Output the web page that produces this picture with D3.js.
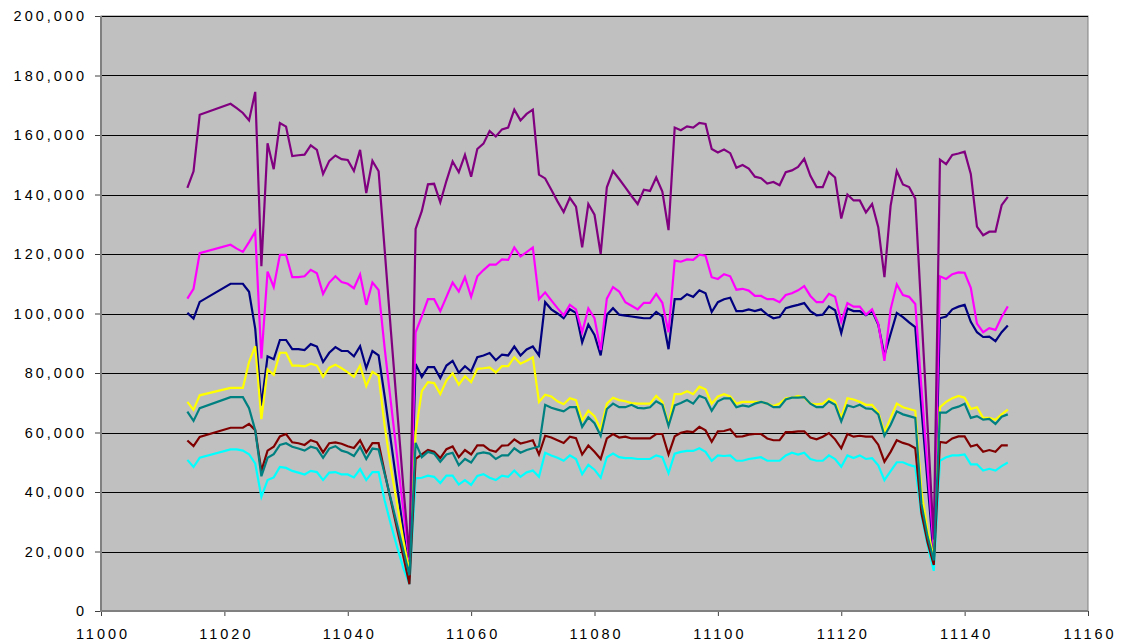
<!DOCTYPE html>
<html>
<head>
<meta charset="utf-8">
<script src="https://cdn.jsdelivr.net/npm/d3@7"></script>
<style>
  body { margin: 0; background: #fff; }
  .axis text { font-family: "Liberation Sans", Arial, sans-serif; font-size: 14.5px; letter-spacing: 3px; fill: #000; }
</style>
</head>
<body>
<div id="vis"></div>
<script>
// x values (day numbers)
const days = [11014, 11015, 11016,
  11021, 11022, 11023, 11024, 11025, 11026, 11027, 11028, 11029, 11030,
  11031, 11032, 11033, 11034, 11035, 11036, 11037, 11038, 11039, 11040,
  11041, 11042, 11043, 11044, 11045, 11046, 11047, 11048, 11049, 11050,
  11051, 11052, 11053, 11054, 11055, 11056, 11057, 11058, 11059, 11060,
  11061, 11062, 11063, 11064, 11065, 11066, 11067, 11068, 11069, 11070,
  11071, 11072, 11073, 11074, 11075, 11076, 11077, 11078, 11079, 11080,
  11081, 11082, 11083, 11084, 11085, 11086, 11087, 11088, 11089, 11090,
  11091, 11092, 11093, 11094, 11095, 11096, 11097, 11098, 11099, 11100,
  11101, 11102, 11103, 11104, 11105, 11106, 11107, 11108, 11109, 11110,
  11111, 11112, 11113, 11114, 11115, 11116, 11117, 11118, 11119, 11120,
  11121, 11122, 11123, 11124, 11125, 11126, 11127, 11128, 11129, 11130,
  11131, 11132, 11133, 11134, 11135, 11136, 11137, 11138, 11139, 11140,
  11141, 11142, 11143, 11144, 11145, 11146, 11147];

const navy = [100200, 98300, 103900,
  110000, 110000, 110000, 107300, 94900, 69000, 85600, 84600, 91100, 91100,
  88000, 88000, 87700, 89700, 88900, 83700, 86800, 88700, 87400, 87400,
  85600, 89000, 81600, 87400, 85900, 72000, 57000, 42000, 27000, 13000,
  83000, 78700, 82000, 82000, 78300, 82500, 84100, 80100, 82300, 80500,
  85300, 85900, 86700, 84300, 86200, 85900, 88900, 85900, 87900, 88900,
  85900, 103800, 101400, 100000, 98400, 101400, 100200, 90300, 96300, 92800,
  85900, 99600, 101800, 99600, 99300, 99000, 98700, 98400, 98400, 100500,
  99000, 88000, 104800, 104800, 106500, 105600, 107800, 106800, 100500, 103800,
  104800, 105300, 100800, 100800, 101400, 100800, 101400, 99600, 98400, 98800,
  101800, 102400, 102900, 103500, 100800, 99400, 99600, 102400, 101100, 93400,
  101700, 100800, 100800, 99400, 100800, 96300, 85900, 93100, 100200, 98800,
  97000, 95400, 68000, 43000, 18000, 98400, 99000, 101400, 102300, 102900,
  97200, 93700, 92100, 92200, 90700, 93700, 96000];

const magenta = [105000, 108300, 120300,
  123100, 121800, 120700, 124000, 127500, 84900, 114100, 108900, 119700, 119700,
  112200, 112200, 112500, 114700, 113500, 106600, 110400, 112500, 110600, 110000,
  108500, 113100, 102900, 110400, 107900, 88000, 70000, 52000, 34000, 17000,
  93700, 99000, 104800, 104800, 100800, 105600, 110400, 107400, 112200, 105600,
  112500, 114600, 116400, 116400, 118200, 118000, 122200, 119200, 120600, 122200,
  104800, 107100, 104400, 101800, 99400, 102900, 101400, 93700, 101700, 98400,
  87700, 105000, 108900, 107400, 103800, 102600, 101400, 103600, 103600, 106600,
  103600, 93700, 117800, 117400, 118200, 118000, 119800, 119400, 112200, 111600,
  113200, 112500, 108000, 108300, 107700, 105900, 105900, 104800, 104800, 103800,
  106200, 106800, 107800, 109200, 105900, 103800, 103800, 106600, 105600, 97200,
  103500, 102300, 102300, 99600, 101400, 96600, 84100, 101400, 109800, 106200,
  105600, 103200, 75000, 48000, 21000, 112500, 111600, 113200, 113800, 113700,
  108600, 96600, 93700, 95100, 94500, 98800, 102400];

const yellow = [70300, 67600, 72500,
  75000, 75000, 75000, 83700, 89000, 64500, 81200, 79400, 86800, 86800,
  82500, 82500, 82200, 83100, 82500, 78700, 81800, 82800, 81600, 80200,
  78700, 82500, 75600, 80400, 79100, 62000, 48000, 36000, 24000, 13000,
  60000, 73900, 76900, 76600, 72900, 77500, 79900, 76100, 78900, 76900,
  81400, 81600, 81900, 80200, 82300, 82300, 85300, 83100, 84100, 85300,
  70300, 72700, 72100, 70500, 69500, 71500, 70900, 64000, 67300, 65500,
  61000, 69700, 71700, 70900, 70500, 69900, 69700, 69700, 69700, 72300,
  70300, 62500, 72900, 72900, 73900, 72900, 75400, 74500, 69700, 72100,
  72900, 72100, 69700, 70300, 70300, 70300, 70300, 69700, 68900, 69700,
  71500, 71700, 72300, 71700, 69700, 69500, 69700, 71300, 70300, 64900,
  71500, 71100, 70300, 69300, 69300, 66700, 60100, 64900, 69700, 68500,
  67900, 67300, 40000, 27000, 18000, 68500, 70300, 71500, 72300, 71700,
  67900, 68500, 64900, 64900, 64300, 66100, 67700];

const cyan = [50800, 48400, 51500,
  54300, 54300, 53900, 52700, 49600, 38400, 44000, 44900, 48400, 48100,
  47100, 46500, 45900, 47100, 46700, 44000, 46500, 46700, 45900, 45900,
  44900, 47700, 44000, 46700, 46700, 37000, 29000, 21500, 14500, 9000,
  44600, 44800, 45500, 45100, 43000, 45500, 45500, 42500, 44000, 42400,
  45400, 46000, 44800, 44000, 45500, 45100, 47200, 45100, 46600, 47200,
  45100, 53200, 52300, 51500, 50500, 52300, 51100, 46000, 49100, 47500,
  44800, 51700, 52900, 51700, 51400, 51400, 51100, 51100, 51100, 52300,
  51700, 46300, 52900, 53500, 53800, 53800, 54700, 53500, 50500, 52300,
  52100, 52300, 50500, 50500, 51100, 51400, 51700, 50500, 50500, 50500,
  52300, 53200, 52600, 53200, 51100, 50500, 50500, 52300, 51100, 48500,
  52300, 51400, 52300, 51100, 51400, 49000, 44000, 47000, 50000, 50000,
  49100, 48500, 32000, 22000, 13500, 50500, 51700, 52300, 52300, 52600,
  49300, 49300, 47200, 47800, 47200, 48700, 49900];

const purple = [142200, 147800, 166800,
  170500, 169000, 167400, 164900, 174500, 115900, 157200, 148500, 164000, 162800,
  152900, 153200, 153400, 156500, 155000, 146900, 151300, 153100, 151900, 151600,
  147900, 155000, 140500, 151300, 147800, 121000, 94000, 68000, 42000, 18000,
  128400, 134400, 143400, 143600, 137400, 144600, 151100, 147500, 153300, 146000,
  155300, 157100, 161300, 159500, 161900, 162500, 168500, 164900, 167100, 168500,
  146700, 145400, 141600, 137700, 134100, 138900, 135900, 122200, 136800, 133200,
  120000, 142400, 147900, 145200, 142400, 139500, 136800, 141600, 141200, 145700,
  141000, 128000, 162500, 161600, 162900, 162500, 164100, 163700, 155300, 154100,
  155100, 153900, 149000, 149900, 148700, 146000, 145500, 143700, 144200, 143100,
  147500, 148100, 149300, 152000, 146300, 142500, 142500, 147500, 145700, 131900,
  140000, 138000, 138000, 134000, 136800, 129000, 112200, 136200, 147900, 143400,
  142500, 138600, 100000, 62000, 24000, 151700, 150200, 153300, 153800, 154400,
  146900, 129200, 126300, 127500, 127500, 136400, 139200];

const darkred = [57300, 55400, 58500,
  61600, 61600, 61600, 62900, 60800, 47100, 53900, 55200, 58700, 59500,
  56700, 56400, 55800, 57400, 56700, 53300, 56400, 56700, 56200, 55400,
  54800, 57400, 53300, 56400, 56400, 46500, 37000, 27500, 18500, 9000,
  51100, 52600, 54100, 53500, 51400, 54400, 55300, 51700, 54100, 52600,
  55700, 55700, 54100, 53500, 55600, 55700, 57700, 56300, 56800, 57400,
  52600, 58900, 58300, 57400, 56500, 58600, 58100, 52600, 55600, 53500,
  51100, 58000, 59500, 58300, 58600, 58000, 58000, 58000, 58000, 59500,
  59500, 52600, 58700, 59900, 60400, 60100, 61900, 60700, 56900, 60400,
  60500, 61100, 58600, 58700, 59300, 59500, 59500, 58000, 57400, 57400,
  60100, 60100, 60400, 60400, 58300, 57700, 58600, 59800, 57700, 54700,
  59500, 58600, 58900, 58600, 58600, 55900, 50200, 53500, 57400, 56500,
  55900, 54700, 33000, 23000, 15500, 56800, 56500, 58000, 58700, 58700,
  55300, 55900, 53500, 54100, 53500, 55700, 55700];

const teal = [67000, 63900, 68200,
  71900, 71900, 71900, 68200, 60800, 45300, 51500, 52700, 55800, 56400,
  55200, 54600, 53900, 55200, 54600, 51500, 54600, 55400, 53900, 53300,
  52100, 55200, 51100, 54600, 54300, 46000, 37500, 29000, 20500, 12000,
  56500, 51700, 53500, 52900, 50200, 52600, 53200, 49000, 51100, 49900,
  52900, 53300, 52900, 51100, 52300, 52300, 54700, 53200, 54100, 54700,
  55300, 69300, 68300, 67700, 67100, 68500, 68500, 61900, 65100, 63100,
  58900, 67900, 69700, 68500, 68500, 69300, 68300, 68100, 68500, 70500,
  69300, 62200, 69100, 69900, 70900, 69700, 72300, 71500, 67300, 70500,
  71500, 71500, 68500, 69100, 68700, 69700, 70300, 69700, 68500, 68500,
  71100, 71700, 71700, 71900, 69700, 68500, 68500, 70500, 69300, 63700,
  69100, 68500, 69300, 68100, 67900, 66100, 58900, 62500, 67100, 66100,
  65500, 64900, 36000, 25000, 17000, 66700, 66700, 68100, 68700, 69700,
  64900, 65500, 64300, 64600, 62900, 65300, 66100];

const yTicks = [0, 20000, 40000, 60000, 80000, 100000, 120000, 140000, 160000, 180000, 200000];
const xTicks = [11000, 11020, 11040, 11060, 11080, 11100, 11120, 11140, 11160];

// drawing order follows the series order of the sheet
const series = [
  { name: 'navy', values: navy, colour: '#000080' },
  { name: 'magenta', values: magenta, colour: '#FF00FF' },
  { name: 'yellow', values: yellow, colour: '#FFFF00' },
  { name: 'cyan', values: cyan, colour: '#00FFFF' },
  { name: 'purple', values: purple, colour: '#800080' },
  { name: 'darkred', values: darkred, colour: '#800000' },
  { name: 'teal', values: teal, colour: '#008080' }
];

const margin = { top: 16, right: 33, bottom: 32, left: 101 };
const W = 1121, H = 643;
const width = W - margin.left - margin.right;
const height = H - margin.top - margin.bottom;

const $svg = d3.select('#vis').append('svg')
  .attr('width', W)
  .attr('height', H);

const $plot = $svg.append('g')
  .attr('transform', `translate(${margin.left}, ${margin.top})`);

const x = d3.scaleLinear().domain([11000, 11160]).range([0, width]);
const y = d3.scaleLinear().domain([0, 200000]).range([height, 0]);

// plot area
$plot.append('rect')
  .attr('width', width)
  .attr('height', height)
  .attr('fill', '#C0C0C0')
  .attr('stroke', '#808080')
  .attr('stroke-width', 1);

// gridlines
$plot.append('g')
  .attr('class', 'grid')
  .selectAll('line')
  .data(yTicks.filter(d => d > 0))
  .enter()
  .append('line')
  .attr('x1', 0)
  .attr('x2', width)
  .attr('y1', d => Math.round(y(d)) + 0.5)
  .attr('y2', d => Math.round(y(d)) + 0.5)
  .attr('stroke', '#000')
  .attr('stroke-width', 1);

// lines
const line = d3.line()
  .x((d, i) => x(days[i]))
  .y(d => y(d));

$plot.append('g')
  .attr('class', 'lines')
  .selectAll('path')
  .data(series)
  .enter()
  .append('path')
  .attr('d', d => line(d.values))
  .attr('fill', 'none')
  .attr('stroke', d => d.colour)
  .attr('stroke-width', 2.2);

// axes
const fmt = d3.format(',');

const yAxis = d3.axisLeft(y)
  .tickValues(yTicks)
  .tickFormat(fmt)
  .tickSize(6)
  .tickPadding(11);

const xAxis = d3.axisBottom(x)
  .tickValues(xTicks)
  .tickFormat(d => d)
  .tickSize(5)
  .tickPadding(13);

$plot.append('g')
  .attr('class', 'axis y')
  .call(yAxis)
  .call(g => g.select('.domain').remove())
  .call(g => g.selectAll('.tick line').attr('stroke', '#404040'))
  .call(g => g.selectAll('.tick text').attr('dx', 3));

$plot.append('g')
  .attr('class', 'axis x')
  .attr('transform', `translate(0, ${height})`)
  .call(xAxis)
  .call(g => g.select('.domain').remove())
  .call(g => g.selectAll('.tick line').attr('stroke', '#404040'))
  .call(g => g.selectAll('.tick text').attr('dx', 1.5));

// axis lines on top of everything
$plot.append('line')
  .attr('x1', 0).attr('x2', 0)
  .attr('y1', 0).attr('y2', height + 1)
  .attr('stroke', '#808080')
  .attr('stroke-width', 2);

$plot.append('line')
  .attr('x1', -1).attr('x2', width)
  .attr('y1', height).attr('y2', height)
  .attr('stroke', '#808080')
  .attr('stroke-width', 2);
</script>
</body>
</html>
